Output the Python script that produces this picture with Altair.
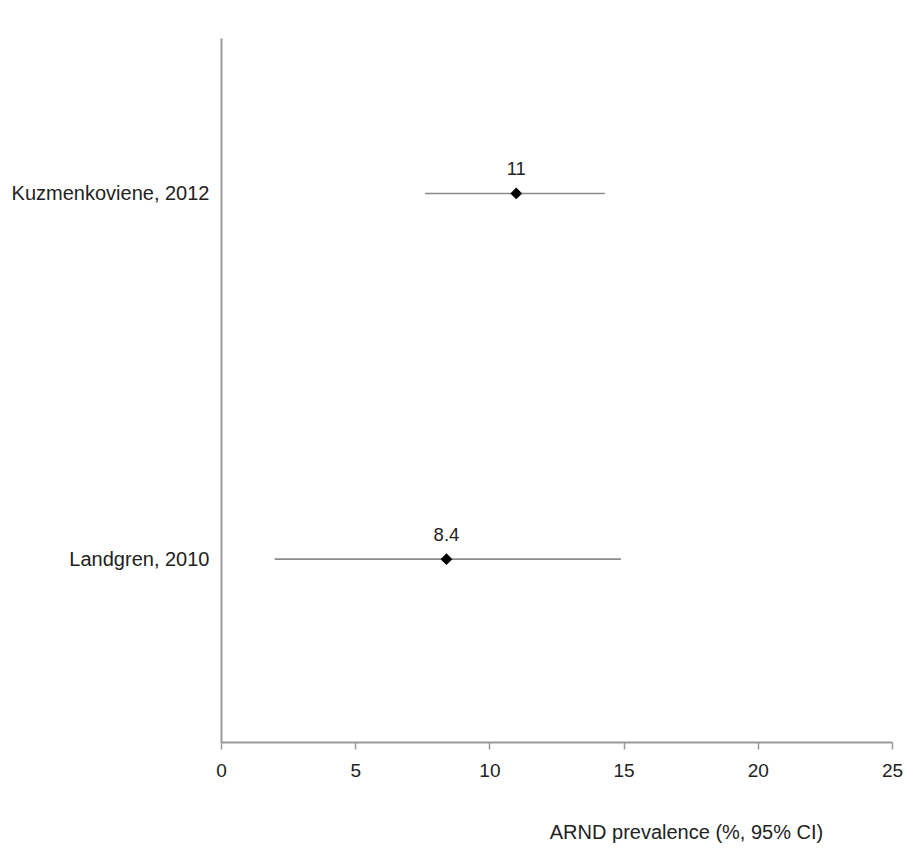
import altair as alt
import pandas as pd

# Forest plot of ARND prevalence estimates with 95% confidence intervals
studies = ["Kuzmenkoviene, 2012", "Landgren, 2010"]
estimates = [11.0, 8.4]
ci_lower = [7.6, 2.0]
ci_upper = [14.3, 14.9]
row = [3, 1]
value_labels = ["11", "8.4"]

df = pd.DataFrame({
    "study": studies,
    "estimate": estimates,
    "lower": ci_lower,
    "upper": ci_upper,
    "row": row,
    "label": value_labels,
})

FONT = "Liberation Sans"
TEXT = "#222222"

label_expr = " : ".join(
    f"datum.value == {r} ? '{s}'" for r, s in zip(row, studies)
) + " : ''"

x_enc = alt.X(
    "estimate:Q",
    scale=alt.Scale(domain=[0, 25], nice=False, zero=True),
    axis=alt.Axis(
        values=[0, 5, 10, 15, 20, 25],
        title="ARND prevalence (%, 95% CI)",
        titleX=465,
        titleY=90,
        titleAlign="center",
        titleBaseline="middle",
        titleFontWeight="normal",
        titleFont=FONT,
        titleFontSize=20,
        titleColor=TEXT,
        grid=False,
        domainColor="#9a9a9a",
        domainWidth=2,
        tickColor="#9a9a9a",
        tickWidth=1.5,
        tickSize=7,
        labelFont=FONT,
        labelFontSize=19,
        labelColor=TEXT,
        labelPadding=12,
        labelFlush=False,
    ),
)

y_enc = alt.Y(
    "row:Q",
    scale=alt.Scale(domain=[0, 3.85], nice=False, zero=True),
    axis=alt.Axis(
        values=row,
        labelExpr=label_expr,
        title=None,
        grid=False,
        ticks=False,
        domainColor="#9a9a9a",
        domainWidth=2,
        labelFont=FONT,
        labelFontSize=20,
        labelColor=TEXT,
        labelPadding=12,
        labelLimit=400,
    ),
)

base = alt.Chart(df)

ci = base.mark_rule(color="#8a8a8a", strokeWidth=1.6).encode(
    x=alt.X("lower:Q", scale=alt.Scale(domain=[0, 25], nice=False)),
    x2="upper:Q",
    y=y_enc,
)

points = base.mark_point(shape="diamond", filled=True, color="black", size=140, opacity=1).encode(
    x=x_enc,
    y=alt.Y("row:Q"),
)

labels = base.mark_text(
    font=FONT, fontSize=18.5, color=TEXT, dy=-24, baseline="middle", align="center"
).encode(
    x=alt.X("estimate:Q"),
    y=alt.Y("row:Q"),
    text="label:N",
)

chart = (
    alt.layer(ci, points, labels)
    .properties(
        width=671,
        height=704,
        background="white",
        padding={"left": 221, "top": 38, "right": 15, "bottom": 106},
        autosize=alt.AutoSizeParams(type="none"),
    )
    .configure_view(stroke=None)
)

chart.save("out.html", embed_options={"renderer": "svg", "actions": False})
